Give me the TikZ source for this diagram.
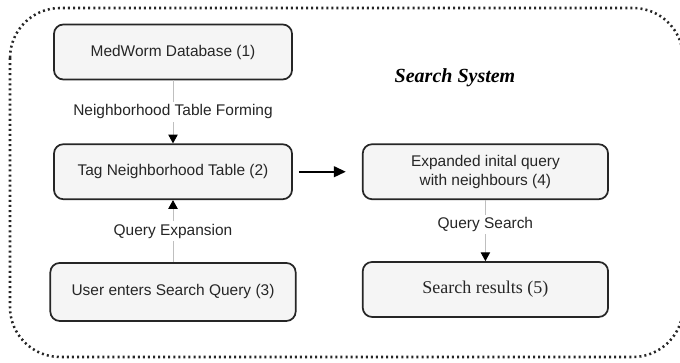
\documentclass[tikz,border=0pt]{standalone}
\usepackage{fontspec}
\setsansfont{Liberation Sans}
\setmainfont{Liberation Serif}
\usetikzlibrary{positioning,arrows.meta}

\begin{document}
\begin{tikzpicture}[
        x=0.75pt, y=-0.75pt,
        font=\sffamily\fontsize{11.6}{14}\selectfont,
        stage/.style={rectangle, minimum width=178.5pt, minimum height=41.25pt, text centered, draw=black!85, line width=1.3pt, fill=black!4, rounded corners=7pt, align=center, text=black!85},
        widestage/.style={stage, minimum width=184pt},
        flow/.style={draw=black!25, line width=0.6pt, -{Triangle[length=6.5pt, width=7pt, color=black]}},
        flowlabel/.style={fill=white, inner sep=2pt, text=black!85},
        link/.style={line width=1.6pt, -{Triangle[length=9pt, width=8pt]}, color=black, shorten <=4.5pt, shorten >=12pt},
        frame/.style={draw=black!85, line width=1.9pt, dash pattern=on 1.5pt off 2.3pt, rounded corners=37.5pt}
    ]

        \useasboundingbox (0,0) rectangle (680,363);

        % --- Outer system frame ---
        \draw [frame] (10,8) rectangle (683,357);

        % --- Left column ---
        \node (mwdb) [stage] at (173,52) {MedWorm Database (1)};
        \node (nbtable) [stage, below=47.25pt of mwdb] {Tag Neighborhood Table (2)};
        \node (userquery) [widestage, minimum height=43.5pt, below=46.5pt of nbtable] {User enters Search Query (3)};

        % --- Right column ---
        \node (expquery) [widestage, right=51.75pt of nbtable] {Expanded inital query\\with neighbours (4)};
        \node (results) [widestage, below=45.75pt of expquery] {\rmfamily\fontsize{13.5}{16}\selectfont Search results (5)};

        % --- Title ---
        \node (systitle) at (455,78) {\rmfamily\bfseries\itshape\fontsize{15}{18}\selectfont Search System};

        % --- Connections ---
        \draw [flow] (mwdb) -- node[flowlabel] {Neighborhood Table Forming} (nbtable);
        \draw [flow] (userquery) -- node[flowlabel] {Query Expansion} (nbtable);
        \draw [flow] (expquery) -- node[flowlabel, pos=0.4] {Query Search} (results);
        \draw [link] (nbtable.east) -- (nbtable.east -| expquery.west);

    \end{tikzpicture}
\end{document}
